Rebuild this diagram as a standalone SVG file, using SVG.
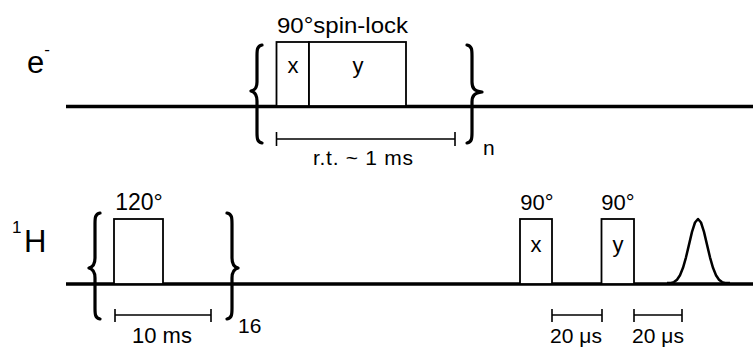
<svg xmlns="http://www.w3.org/2000/svg" width="753" height="352" viewBox="0 0 753 352">
<style>
text{font-family:"Liberation Sans",Arial,sans-serif;fill:#000}
.axis{stroke:#000;stroke-width:3.5;fill:none}
.pulse{stroke:#000;stroke-width:1.8;fill:#fff}
.brace{stroke:#000;stroke-width:3.2;fill:none;stroke-linecap:round;stroke-linejoin:round}
.bar{stroke:#000;stroke-width:1.6;fill:none}
.lbl{font-size:22px;text-anchor:middle}
</style>
<rect width="753" height="352" fill="#fff"/>
<g id="electron">
<line class="axis" x1="66" y1="106.5" x2="753" y2="106.5"/>
<text x="27" y="73" font-size="31">e<tspan font-size="17" dy="-18">-</tspan></text>
<rect class="pulse" x="276.5" y="42" width="32.5" height="64"/>
<rect class="pulse" x="309" y="42" width="97" height="64"/>
<text class="lbl" x="293" y="73">x</text>
<text class="lbl" x="358" y="73">y</text>
<text x="277" y="33" font-size="22" textLength="131" lengthAdjust="spacingAndGlyphs">90°spin-lock</text>
<path class="brace" d="M262 45 C257 46 257 50 257 56 L257 82 C257 88 255 90 251 91 C255 92 257 95 257 101 L257 132 C257 138 257 142 262 143"/>
<path class="brace" d="M467 45 C472 46 472 50 472 56 L472 82 C472 88 474 91 482 92 C474 93 472 96 472 102 L472 132 C472 138 472 142 467 143"/>
<path class="bar" d="M276.5 139 H455 M276.5 132 V146 M455 132 V146"/>
<text x="363" y="165" font-size="21" text-anchor="middle" textLength="100" lengthAdjust="spacing">r.t. ~ 1 ms</text>
<text x="483" y="155" font-size="21">n</text>
</g>
<g id="proton">
<line class="axis" x1="66" y1="284" x2="753" y2="284"/>
<text x="12" y="233" font-size="17">1</text>
<text x="24" y="252" font-size="31">H</text>
<rect class="pulse" x="114" y="219" width="49" height="65"/>
<text x="139" y="210" font-size="23" text-anchor="middle">120°</text>
<path class="brace" d="M100 213 C95 214 95 218 95 224 L95 258 C95 264 93 267 89 268 C93 269 95 272 95 278 L95 308 C95 314 95 318 100 319"/>
<path class="brace" d="M227 213 C232 214 232 218 232 224 L232 258 C232 264 234 267 238 268 C234 269 232 272 232 278 L232 308 C232 314 232 318 227 319"/>
<path class="bar" d="M115 315 H211 M115 309 V322 M211 309 V322"/>
<text x="162" y="343" font-size="22" text-anchor="middle">10 ms</text>
<text x="238" y="333" font-size="21">16</text>
<rect class="pulse" x="520" y="219" width="32" height="65"/>
<text x="537" y="210" font-size="22" text-anchor="middle">90°</text>
<text class="lbl" x="536" y="252">x</text>
<rect class="pulse" x="601.5" y="219" width="32.5" height="65"/>
<text x="618" y="210" font-size="22" text-anchor="middle">90°</text>
<text class="lbl" x="618" y="252">y</text>
<polyline fill="none" stroke="#000" stroke-width="2.5" stroke-linejoin="round" points="667,283 671,283 674,282.1 677,279.7 680,275.2 683,267.8 686,257.3 689,244.6 692,231.9 695,222.5 698,219 701,222.5 704,231.9 707,244.6 710,257.3 713,267.8 716,275.2 719,279.7 722,282.1 725,283 730,283"/>
<path class="bar" d="M552 315 H602 M552 309 V322 M602 309 V322"/>
<text x="576" y="343" font-size="21" text-anchor="middle">20 μs</text>
<path class="bar" d="M634 315 H682 M634 309 V322 M682 309 V322"/>
<text x="658" y="343" font-size="21" text-anchor="middle">20 μs</text>
</g>
</svg>
